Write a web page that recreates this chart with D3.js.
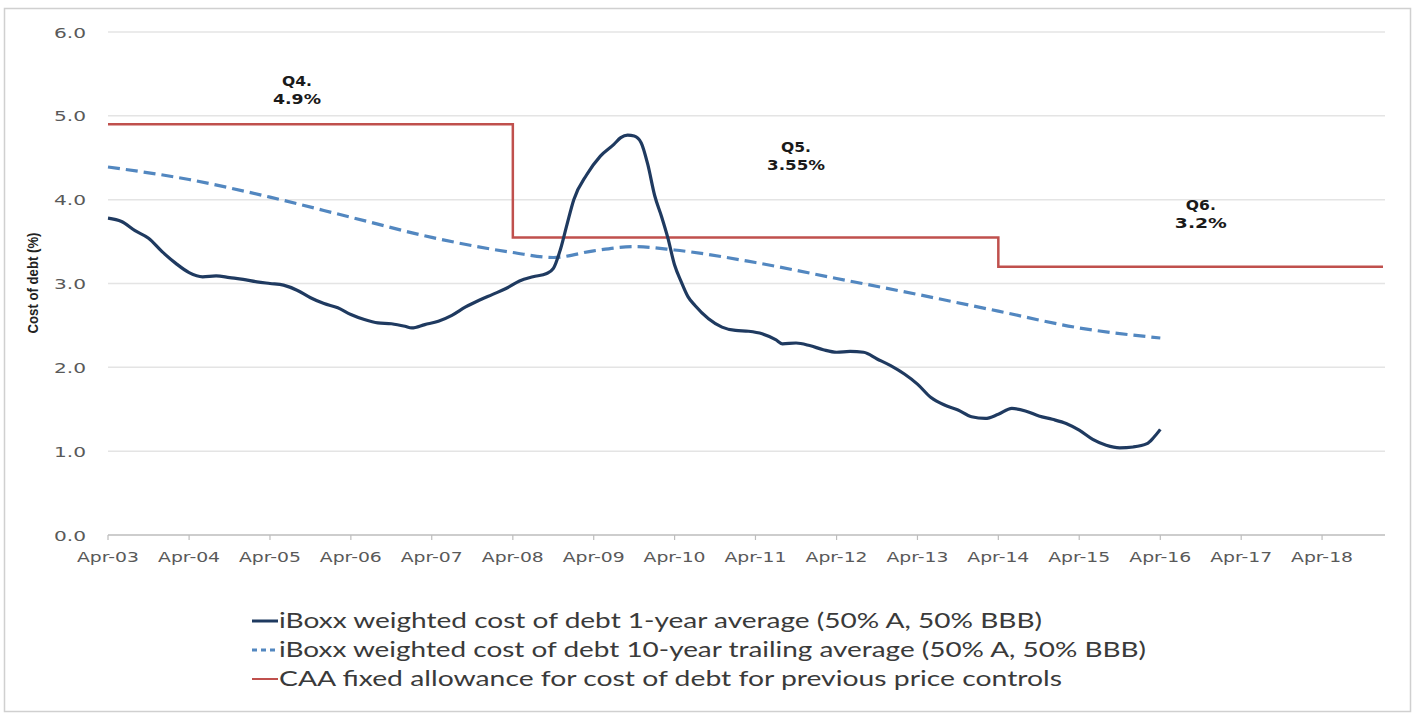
<!DOCTYPE html>
<html><head><meta charset="utf-8">
<script src="https://cdn.jsdelivr.net/npm/d3@7"></script>
<style>body{margin:0;background:#fff;} svg{display:block;}</style>
</head><body><svg id="c" width="1416" height="718"></svg>
<script>
// ---------------- DATA ----------------
const yTicks = [0, 1, 2, 3, 4, 5, 6];
const xTickLabels = ["Apr-03","Apr-04","Apr-05","Apr-06","Apr-07","Apr-08","Apr-09","Apr-10","Apr-11","Apr-12","Apr-13","Apr-14","Apr-15","Apr-16","Apr-17","Apr-18"];

const oneYearDates = ["2003-04","2003-06","2003-08","2003-10","2003-12","2004-02","2004-04","2004-06","2004-08","2004-10","2004-12","2005-02","2005-04","2005-06","2005-08","2005-10","2005-12","2006-02","2006-04","2006-06","2006-08","2006-10","2006-12","2007-01","2007-03","2007-05","2007-07","2007-09","2007-11","2008-01","2008-03","2008-05","2008-07","2008-09","2008-10","2008-11","2008-12","2009-01","2009-03","2009-05","2009-07","2009-08","2009-09","2009-10","2009-11","2009-12","2010-01","2010-02","2010-03","2010-04","2010-05","2010-06","2010-07","2010-09","2010-11","2011-01","2011-03","2011-05","2011-07","2011-08","2011-10","2011-12","2012-02","2012-04","2012-06","2012-08","2012-10","2012-12","2013-02","2013-04","2013-06","2013-08","2013-10","2013-12","2014-02","2014-04","2014-06","2014-08","2014-10","2014-12","2015-02","2015-04","2015-06","2015-08","2015-10","2015-12","2016-02","2016-03","2016-04"];
const oneYearValues = [3.78,3.74,3.63,3.54,3.38,3.24,3.13,3.08,3.09,3.07,3.05,3.02,3.00,2.98,2.92,2.83,2.76,2.71,2.63,2.57,2.53,2.52,2.49,2.47,2.51,2.55,2.62,2.72,2.80,2.87,2.94,3.03,3.08,3.12,3.18,3.40,3.70,4.00,4.30,4.52,4.66,4.74,4.77,4.76,4.68,4.42,4.05,3.80,3.55,3.22,3.02,2.84,2.74,2.58,2.48,2.44,2.43,2.40,2.33,2.28,2.29,2.26,2.21,2.18,2.19,2.18,2.10,2.02,1.92,1.80,1.64,1.55,1.49,1.41,1.39,1.44,1.51,1.48,1.42,1.38,1.33,1.25,1.14,1.07,1.04,1.05,1.09,1.16,1.26];

const tenYearDates = ["2003-04","2004-04","2005-04","2006-04","2007-04","2008-04","2008-10","2009-04","2009-10","2010-04","2011-04","2012-04","2013-04","2014-04","2015-04","2016-04"];
const tenYearValues = [4.39,4.24,4.03,3.79,3.55,3.37,3.31,3.39,3.44,3.40,3.25,3.06,2.87,2.67,2.47,2.35];

const allowanceDates = ["2003-04","2008-04","2014-04","2019-01"];
const allowanceValues = [4.9, 3.55, 3.2, 3.2];

const annotationLabels = [["Q4.","4.9%"],["Q5.","3.55%"],["Q6.","3.2%"]];

const legendLabels = [
  "iBoxx weighted cost of debt 1-year average (50% A, 50% BBB)",
  "iBoxx weighted cost of debt 10-year trailing average (50% A, 50% BBB)",
  "CAA fixed allowance for cost of debt for previous price controls"
];
const yAxisTitle = "Cost of debt (%)";

// ---------------- LAYOUT ----------------
const parse = d3.timeParse("%Y-%m");
const svg = d3.select("#c");
const x = d3.scaleTime().domain([new Date(2003,3,1), new Date(2019,0,10)]).range([108, 1385]);
const y = d3.scaleLinear().domain([0, 6]).range([535, 32]);

// border
svg.append("rect").attr("x",4.5).attr("y",8.5).attr("width",1406).attr("height",703)
  .attr("fill","#fff").attr("stroke","#d0d0d0").attr("stroke-width",1.5);

// gridlines
svg.append("g").selectAll("line").data(yTicks.filter(d=>d>0)).join("line")
  .attr("x1",108).attr("x2",1385).attr("y1",d=>y(d)).attr("y2",d=>y(d))
  .attr("stroke","#e4e4e4").attr("stroke-width",1.5);

// y tick labels
svg.append("g").selectAll("text").data(yTicks).join("text")
  .attr("x",86).attr("y",d=>y(d)+5.5).attr("text-anchor","end")
  .attr("font-family","DejaVu Sans").attr("font-size",14).attr("fill","#595959")
  .attr("textLength",32).attr("lengthAdjust","spacingAndGlyphs")
  .text(d=>d3.format(".1f")(d));

// x axis
const tickDates = xTickLabels.map((d,i)=>new Date(2003+i,3,1));
svg.append("line").attr("x1",108).attr("x2",1385).attr("y1",y(0)).attr("y2",y(0))
  .attr("stroke","#bdbdbd").attr("stroke-width",1.5);
svg.append("g").selectAll("line").data(tickDates).join("line")
  .attr("x1",d=>x(d)).attr("x2",d=>x(d)).attr("y1",y(0)).attr("y2",y(0)+5)
  .attr("stroke","#bdbdbd").attr("stroke-width",1.2);
svg.append("g").selectAll("text").data(xTickLabels).join("text")
  .attr("x",(d,i)=>x(tickDates[i])).attr("y",562).attr("text-anchor","middle")
  .attr("font-family","DejaVu Sans").attr("font-size",14).attr("fill","#595959")
  .attr("textLength",62).attr("lengthAdjust","spacingAndGlyphs")
  .text(d=>d);

// y axis title
svg.append("text").attr("transform","translate(38,283) rotate(-90)")
  .attr("text-anchor","middle").attr("font-family","Liberation Sans Narrow, Liberation Sans")
  .attr("font-weight","bold").attr("font-size",15).attr("fill","#222")
  .attr("textLength",101).attr("lengthAdjust","spacingAndGlyphs")
  .text(yAxisTitle);

// series
const oneYear = oneYearDates.map((d,i)=>({date:parse(d), v:oneYearValues[i]}));
const tenYear = tenYearDates.map((d,i)=>({date:parse(d), v:tenYearValues[i]}));
const allowance = allowanceDates.map((d,i)=>({date:parse(d), v:allowanceValues[i]}));

svg.append("path").datum(allowance)
  .attr("d", d3.line().x(d=>x(d.date)).y(d=>y(d.v)).curve(d3.curveStepAfter))
  .attr("fill","none").attr("stroke","#c0504d").attr("stroke-width",2.5);

svg.append("path").datum(tenYear)
  .attr("d", d3.line().x(d=>x(d.date)).y(d=>y(d.v)).curve(d3.curveMonotoneX))
  .attr("fill","none").attr("stroke","#5287c0").attr("stroke-width",3.2)
  .attr("stroke-dasharray","12,6");

svg.append("path").datum(oneYear)
  .attr("d", d3.line().x(d=>x(d.date)).y(d=>y(d.v)).curve(d3.curveMonotoneX))
  .attr("fill","none").attr("stroke","#1f3a60").attr("stroke-width",3.2)
  .attr("stroke-linejoin","round");

// annotations
const annotationAnchors = [{date:"2005-08", top:86},{date:"2011-10", top:152},{date:"2016-10", top:210}];
const annotationWidths = [[30,48],[30,58],[30,52]];
annotationLabels.forEach((lines,i)=>{
  lines.forEach((t,j)=>{
    svg.append("text").attr("x", x(parse(annotationAnchors[i].date)))
      .attr("y", annotationAnchors[i].top + j*18).attr("text-anchor","middle")
      .attr("font-family","DejaVu Sans").attr("font-weight","bold").attr("font-size",14.5)
      .attr("fill","#1a1a1a")
      .attr("textLength",annotationWidths[i][j]).attr("lengthAdjust","spacingAndGlyphs")
      .text(t);
  });
});

// legend
const legendY = [621, 650, 679];
const legendWidths = [763, 867, 783];
const legendStyles = [
  {stroke:"#1f3a60", dash:null, w:3},
  {stroke:"#5287c0", dash:"5,4", w:3},
  {stroke:"#c0504d", dash:null, w:2}
];
legendLabels.forEach((t,i)=>{
  svg.append("line").attr("x1",252).attr("x2",278).attr("y1",legendY[i]).attr("y2",legendY[i])
    .attr("stroke",legendStyles[i].stroke).attr("stroke-width",legendStyles[i].w)
    .attr("stroke-dasharray",legendStyles[i].dash);
  svg.append("text").attr("x",279).attr("y",legendY[i]+7)
    .attr("font-family","Lato").attr("font-size",21).attr("fill","#3a3a3a")
    .attr("textLength",legendWidths[i]).attr("lengthAdjust","spacingAndGlyphs")
    .text(t);
});
</script></body></html>
